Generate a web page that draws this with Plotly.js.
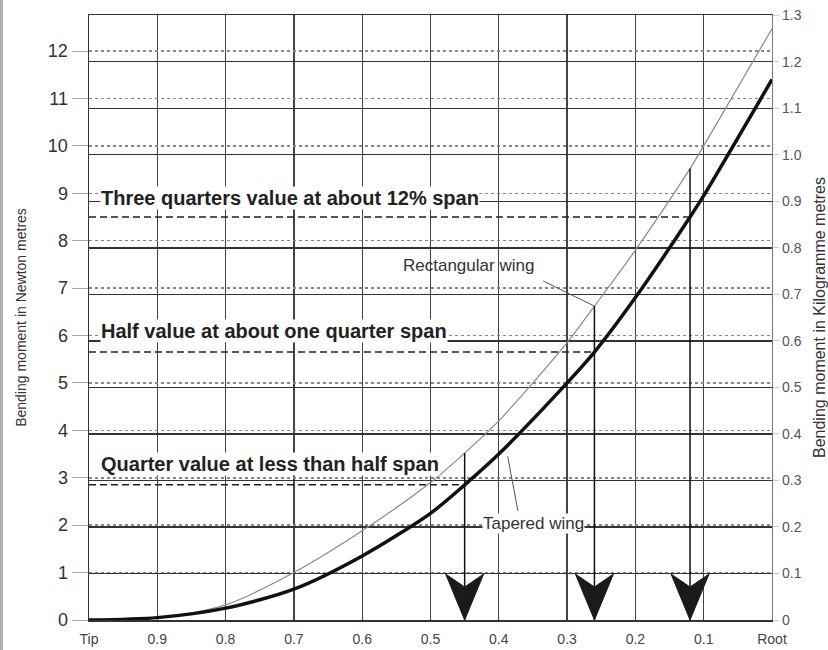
<!DOCTYPE html>
<html><head><meta charset="utf-8">
<script src="https://cdn.plot.ly/plotly-3.0.1.min.js"></script>
<style>
html,body{margin:0;padding:0;background:#fff;}
#chart{width:828px;height:650px;}
#edge{position:absolute;left:0;top:0;width:3px;height:650px;background:#b0b0b0;}
</style>
</head><body>
<div id="chart"></div><div id="edge"></div>
<script>
// ---- data ----
const spanPos       = [1.0, 0.9, 0.8, 0.7, 0.6, 0.5, 0.45, 0.4, 0.3, 0.26, 0.2, 0.12, 0.1, 0.0];
const taperedNm     = [0, 0.05, 0.25, 0.65, 1.35, 2.25, 2.85, 3.5, 5.0, 5.65, 6.8, 8.5, 8.95, 11.4];
const rectangularNm = [0, 0.05, 0.32, 1.0, 1.88, 2.9, 3.52, 4.2, 5.85, 6.62, 7.8, 9.52, 10.0, 12.47];

const spanTickVals  = [1.0, 0.9, 0.8, 0.7, 0.6, 0.5, 0.4, 0.3, 0.2, 0.1, 0.0];
const spanTickText  = ['Tip', '0.9', '0.8', '0.7', '0.6', '0.5', '0.4', '0.3', '0.2', '0.1', 'Root'];
const kgTickVals    = [0, 0.1, 0.2, 0.3, 0.4, 0.5, 0.6, 0.7, 0.8, 0.9, 1.0, 1.1, 1.2, 1.3];
const kgTickText    = ['0', '0.1', '0.2', '0.3', '0.4', '0.5', '0.6', '0.7', '0.8', '0.9', '1.0', '1.1', '1.2', '1.3'];

const markSpan      = [0.45, 0.26, 0.12];
const markLabels    = ['Quarter value at less than half span',
                       'Half value at about one quarter span',
                       'Three quarters value at about 12% span'];
const NM_PER_KGM = 9.81;

// ---- layout helpers ----
const FONT = 'Liberation Sans, Arial, Helvetica, sans-serif';
const yTop = 12.76;
const labelY = [3.3, 6.1, 8.9];

const traces = [
  { x: spanPos, y: rectangularNm, mode: 'lines', name: 'Rectangular wing',
    line: { color: '#8a8a8a', width: 1.2, shape: 'spline', smoothing: 0.8 }, hoverinfo: 'skip', showlegend: false },
  { x: spanPos, y: taperedNm, mode: 'lines', name: 'Tapered wing',
    line: { color: '#111', width: 3.5, shape: 'spline', smoothing: 0.8 }, hoverinfo: 'skip', showlegend: false },
  { x: spanPos, y: taperedNm.map(v => v / NM_PER_KGM), yaxis: 'y2', mode: 'lines',
    line: { width: 0, color: 'rgba(0,0,0,0)' }, hoverinfo: 'skip', showlegend: false }
];

const shapes = [];
const annotations = [];
markSpan.forEach((s, i) => {
  const k = spanPos.indexOf(s);
  const tv = taperedNm[k], rv = rectangularNm[k];
  shapes.push({ type: 'line', xref: 'x', yref: 'y', x0: 1.0, x1: s, y0: tv, y1: tv,
    line: { color: '#222', width: 1.5, dash: '7px,4px' } });
  shapes.push({ type: 'line', xref: 'x', yref: 'y', x0: s, x1: s, y0: rv, y1: 0,
    line: { color: '#111', width: 1.5 } });
  shapes.push({ type: 'path', xref: 'x', yref: 'y', xsizemode: 'pixel', ysizemode: 'pixel',
    xanchor: s, yanchor: 0, path: 'M-19,46 L0,33 L19,46 L0,0 Z',
    fillcolor: '#1a1a1a', line: { color: '#1a1a1a', width: 1 } });
  annotations.push({ text: markLabels[i], xref: 'paper', yref: 'y', x: 0.016, y: labelY[i],
    xanchor: 'left', yanchor: 'middle', showarrow: false, bgcolor: '#fff', borderpad: 0,
    font: { family: FONT, size: 20, weight: 'bold', color: '#222' } });
});

shapes.push({ type: 'line', xref: 'x', yref: 'y', x0: 0.335, y0: 7.15, x1: 0.26, y1: 6.62,
  line: { color: '#555', width: 1 } });
shapes.push({ type: 'line', xref: 'x', yref: 'y', x0: 0.387, y0: 3.45, x1: 0.372, y1: 2.3,
  line: { color: '#555', width: 1 } });
annotations.push({ text: 'Rectangular wing', xref: 'x', yref: 'y', x: 0.444, y: 7.47,
  showarrow: false, font: { family: FONT, size: 17, color: '#333' } });
annotations.push({ text: 'Tapered wing', xref: 'x', yref: 'y', x: 0.349, y: 2.03,
  showarrow: false, bgcolor: '#fff', borderpad: 0, font: { family: FONT, size: 17, color: '#333' } });

const layout = {
  width: 828, height: 650,
  margin: { l: 89, r: 56, t: 15, b: 30 },
  paper_bgcolor: '#fff', plot_bgcolor: '#fff',
  font: { family: FONT, color: '#333' },
  xaxis: { range: [1, 0], tickvals: spanTickVals, ticktext: spanTickText,
    showgrid: true, gridcolor: '#444', gridwidth: 1.4, zeroline: false,
    showline: true, mirror: true, linecolor: '#333', linewidth: 1.5,
    ticks: '', ticklabelstandoff: 6, tickfont: { family: FONT, size: 14, color: '#444' } },
  yaxis: { range: [0, yTop], tick0: 0, dtick: 1, showgrid: true, gridcolor: '#888',
    griddash: 'dot', gridwidth: 1.5, zeroline: false, showline: true, linecolor: '#333', linewidth: 1.5,
    ticks: 'outside', ticklen: 16, tickcolor: '#aaa', tickwidth: 1,
    tickfont: { family: FONT, size: 18, color: '#333' },
    title: { text: 'Bending moment in Newton metres', standoff: 18,
      font: { family: FONT, size: 14, color: '#333' } } },
  yaxis2: { overlaying: 'y', side: 'right', range: [0, yTop / NM_PER_KGM],
    tickvals: kgTickVals, ticktext: kgTickText, showgrid: true, gridcolor: '#333', gridwidth: 1.2,
    zeroline: false, showline: true, linecolor: '#777', linewidth: 1.2,
    ticks: 'outside', ticklen: 6, tickcolor: '#ccc',
    tickfont: { family: FONT, size: 14, color: '#555' },
    title: { text: 'Bending moment in Kilogramme metres', standoff: 16,
      font: { family: FONT, size: 16, color: '#333' } } },
  shapes: shapes,
  annotations: annotations,
  showlegend: false
};

Plotly.newPlot('chart', traces, layout, { displayModeBar: false, staticPlot: true });
</script>
</body></html>
